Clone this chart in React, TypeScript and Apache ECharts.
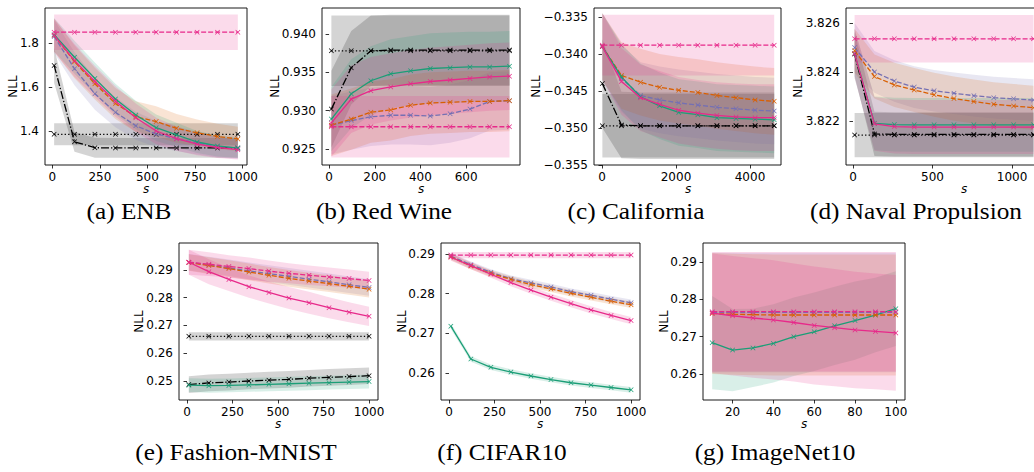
import React, { useEffect, useRef } from 'react';
import * as echarts from 'echarts';

const GREEN = '#1b9e77';
const ORANGE = '#d95f02';
const PURPLE = '#7570b3';
const PINK = '#e7298a';
const BLACK = '#000000';

// (a) ENB
const enbX = [10, 117, 224, 332, 439, 546, 653, 761, 868, 975];
const enbPinkDash = [1.849, 1.849, 1.849, 1.849, 1.849, 1.849, 1.849, 1.849, 1.849, 1.849];
const enbPinkDashSd = [0.081, 0.081, 0.081, 0.081, 0.081, 0.081, 0.081, 0.081, 0.081, 0.081];
const enbDot = [1.385, 1.385, 1.385, 1.385, 1.385, 1.385, 1.385, 1.385, 1.385, 1.385];
const enbDotSd = [0.05, 0.05, 0.05, 0.05, 0.05, 0.05, 0.05, 0.05, 0.05, 0.05];
const enbDashDot = [1.698, 1.351, 1.324, 1.323, 1.323, 1.323, 1.323, 1.323, 1.323, 1.323];
const enbDashDotSd = [0.08, 0.045, 0.045, 0.045, 0.045, 0.045, 0.045, 0.045, 0.045, 0.045];
const enbGreen = [1.838, 1.735, 1.639, 1.545, 1.473, 1.415, 1.382, 1.35, 1.332, 1.322];
const enbGreenSd = [0.075, 0.075, 0.072, 0.07, 0.065, 0.06, 0.055, 0.05, 0.048, 0.045];
const enbPink = [1.835, 1.72, 1.625, 1.535, 1.46, 1.4, 1.365, 1.34, 1.325, 1.315];
const enbPinkSd = [0.075, 0.075, 0.072, 0.07, 0.065, 0.06, 0.055, 0.05, 0.048, 0.045];
const enbOrange = [1.835, 1.715, 1.615, 1.525, 1.465, 1.443, 1.412, 1.392, 1.375, 1.364];
const enbOrangeSd = [0.075, 0.075, 0.072, 0.07, 0.07, 0.07, 0.065, 0.06, 0.058, 0.055];
const enbPurple = [1.83, 1.683, 1.569, 1.485, 1.424, 1.386, 1.365, 1.345, 1.33, 1.323];
const enbPurpleSd = [0.075, 0.075, 0.072, 0.068, 0.064, 0.06, 0.056, 0.052, 0.05, 0.05];

// (b) Red Wine
const wineX = [10, 97, 183, 270, 357, 443, 530, 617, 703, 790];
const winePinkDash = [0.9279, 0.9279, 0.9279, 0.9279, 0.9279, 0.9279, 0.9279, 0.9279, 0.9279, 0.9279];
const winePinkDashSd = [0.004, 0.004, 0.004, 0.004, 0.004, 0.004, 0.004, 0.004, 0.004, 0.004];
const wineDot = [0.9378, 0.9378, 0.9378, 0.9378, 0.9378, 0.9378, 0.9378, 0.9378, 0.9378, 0.9378];
const wineDotSd = [0.0046, 0.0046, 0.0046, 0.0046, 0.0046, 0.0046, 0.0046, 0.0046, 0.0046, 0.0046];
const wineDashDot = [0.9302, 0.9356, 0.9378, 0.9379, 0.9379, 0.9379, 0.9379, 0.9379, 0.9379, 0.9379];
const wineDashDotSd = [0.005, 0.0048, 0.0046, 0.0046, 0.0046, 0.0046, 0.0046, 0.0046, 0.0046, 0.0046];
const wineGreen = [0.9289, 0.9322, 0.9339, 0.9348, 0.9352, 0.9355, 0.9356, 0.9357, 0.9357, 0.9358];
const wineGreenSd = [0.0042, 0.0045, 0.0045, 0.0045, 0.0045, 0.0046, 0.0046, 0.0046, 0.0046, 0.0046];
const winePink = [0.9284, 0.9315, 0.9326, 0.9331, 0.9335, 0.9338, 0.934, 0.9342, 0.9344, 0.9345];
const winePinkSd = [0.0044, 0.0044, 0.0044, 0.0044, 0.0044, 0.0044, 0.0044, 0.0044, 0.0044, 0.0044];
const wineOrange = [0.9281, 0.9289, 0.9298, 0.9301, 0.9307, 0.931, 0.9311, 0.9312, 0.9312, 0.9313];
const wineOrangeSd = [0.004, 0.004, 0.004, 0.004, 0.004, 0.004, 0.004, 0.004, 0.004, 0.004];
const winePurple = [0.9281, 0.9287, 0.9292, 0.9294, 0.9294, 0.9293, 0.9296, 0.9302, 0.9312, 0.9313];
const winePurpleSd = [0.0038, 0.0038, 0.0038, 0.0038, 0.0038, 0.0038, 0.0038, 0.0038, 0.0038, 0.0038];

// (c) California
const calX = [10, 526, 1042, 1558, 2074, 2590, 3106, 3622, 4138, 4654];
const calPinkDash = [-0.3388, -0.3388, -0.3388, -0.3388, -0.3388, -0.3388, -0.3388, -0.3388, -0.3388, -0.3388];
const calPinkDashSd = [0.0041, 0.0041, 0.0041, 0.0041, 0.0041, 0.0041, 0.0041, 0.0041, 0.0041, 0.0041];
const calDot = [-0.3497, -0.3497, -0.3497, -0.3497, -0.3497, -0.3497, -0.3497, -0.3497, -0.3497, -0.3497];
const calDotSd = [0.0043, 0.0043, 0.0043, 0.0043, 0.0043, 0.0043, 0.0043, 0.0043, 0.0043, 0.0043];
const calDashDot = [-0.344, -0.3496, -0.3497, -0.3497, -0.3497, -0.3497, -0.3497, -0.3497, -0.3497, -0.3497];
const calDashDotSd = [0.006, 0.0045, 0.0045, 0.0045, 0.0045, 0.0045, 0.0045, 0.0045, 0.0045, 0.0045];
const calGreen = [-0.339, -0.3431, -0.3458, -0.347, -0.3479, -0.3482, -0.3486, -0.3487, -0.3488, -0.3489];
const calGreenSd = [0.0045, 0.0045, 0.0045, 0.0045, 0.0045, 0.0045, 0.0045, 0.0045, 0.0045, 0.0045];
const calPink = [-0.339, -0.3437, -0.3459, -0.3468, -0.3476, -0.348, -0.3483, -0.3485, -0.3486, -0.3486];
const calPinkSd = [0.0045, 0.0045, 0.0045, 0.0045, 0.0045, 0.0045, 0.0045, 0.0045, 0.0045, 0.0045];
const calOrange = [-0.339, -0.3429, -0.3438, -0.3445, -0.3449, -0.3452, -0.3456, -0.3459, -0.3462, -0.3464];
const calOrangeSd = [0.0045, 0.0045, 0.0045, 0.0045, 0.0045, 0.0045, 0.0045, 0.0045, 0.0045, 0.0045];
const calPurple = [-0.339, -0.3433, -0.3456, -0.3462, -0.3466, -0.3469, -0.3472, -0.3474, -0.3476, -0.3477];
const calPurpleSd = [0.0045, 0.0045, 0.0045, 0.0045, 0.0045, 0.0045, 0.0045, 0.0045, 0.0045, 0.0045];

// (d) Naval Propulsion
const navX = [10, 135, 260, 385, 510, 635, 760, 885, 1010, 1135];
const navPinkDash = [3.82535, 3.82535, 3.82535, 3.82535, 3.82535, 3.82535, 3.82535, 3.82535, 3.82535, 3.82535];
const navPinkDashSd = [0.00097, 0.00097, 0.00097, 0.00097, 0.00097, 0.00097, 0.00097, 0.00097, 0.00097, 0.00097];
const navDot = [3.82142, 3.82142, 3.82142, 3.82142, 3.82142, 3.82142, 3.82142, 3.82142, 3.82142, 3.82142];
const navDotSd = [0.0009, 0.0009, 0.0009, 0.0009, 0.0009, 0.0009, 0.0009, 0.0009, 0.0009, 0.0009];
const navDashDot = [3.82473, 3.82147, 3.82145, 3.82145, 3.82145, 3.82145, 3.82145, 3.82145, 3.82145, 3.82145];
const navDashDotSd = [0.0009, 0.0009, 0.0009, 0.0009, 0.0009, 0.0009, 0.0009, 0.0009, 0.0009, 0.0009];
const navGreen = [3.82475, 3.8219, 3.82185, 3.82184, 3.82184, 3.82184, 3.82184, 3.82184, 3.82184, 3.82184];
const navGreenSd = [0.001, 0.0011, 0.0011, 0.0011, 0.0011, 0.0011, 0.0011, 0.0011, 0.0011, 0.0011];
const navPink = [3.82475, 3.82188, 3.82177, 3.82175, 3.82175, 3.82175, 3.82175, 3.82175, 3.82175, 3.82175];
const navPinkSd = [0.001, 0.0011, 0.0011, 0.0011, 0.0011, 0.0011, 0.0011, 0.0011, 0.0011, 0.0011];
const navPurple = [3.825, 3.824, 3.82363, 3.82338, 3.82323, 3.82313, 3.82303, 3.82295, 3.8229, 3.82285];
const navPurpleSd = [0.001, 0.00085, 0.00085, 0.00085, 0.00085, 0.00085, 0.00085, 0.00085, 0.00085, 0.00085];
const navOrange = [3.82486, 3.82381, 3.82347, 3.82326, 3.82307, 3.82291, 3.82279, 3.82268, 3.82261, 3.82254];
const navOrangeSd = [0.0009, 0.0009, 0.0009, 0.0009, 0.0009, 0.0009, 0.0009, 0.0009, 0.0009, 0.0009];

// (e) Fashion-MNIST
const fmX = [10, 120, 230, 340, 450, 560, 670, 780, 890, 1000];
const fmPinkDash = [0.2928, 0.2921, 0.2913, 0.2905, 0.2896, 0.2888, 0.2881, 0.2875, 0.2869, 0.2862];
const fmPinkDashSd = [0.0045, 0.0043, 0.004, 0.004, 0.0038, 0.0036, 0.0035, 0.0034, 0.0033, 0.0032];
const fmDot = [0.2661, 0.2661, 0.2661, 0.2661, 0.2661, 0.2661, 0.2661, 0.2661, 0.2661, 0.2661];
const fmDotSd = [0.0015, 0.0015, 0.0015, 0.0015, 0.0015, 0.0015, 0.0015, 0.0015, 0.0015, 0.0015];
const fmDashDot = [0.2487, 0.2493, 0.2496, 0.25, 0.2503, 0.2506, 0.251, 0.2513, 0.2516, 0.2519];
const fmDashDotSd = [0.003, 0.003, 0.003, 0.003, 0.003, 0.003, 0.003, 0.003, 0.003, 0.003];
const fmGreen = [0.2485, 0.2483, 0.2484, 0.2486, 0.2488, 0.249, 0.2492, 0.2494, 0.2496, 0.2498];
const fmGreenSd = [0.0025, 0.0025, 0.0025, 0.0025, 0.0025, 0.0025, 0.0025, 0.0025, 0.0025, 0.0025];
const fmPink = [0.2928, 0.2894, 0.2866, 0.284, 0.2819, 0.2799, 0.2782, 0.2764, 0.2748, 0.2733];
const fmPinkSd = [0.0045, 0.0045, 0.0042, 0.004, 0.004, 0.004, 0.004, 0.0038, 0.0036, 0.0035];
const fmOrange = [0.2927, 0.2916, 0.2905, 0.2893, 0.2881, 0.287, 0.286, 0.2851, 0.2841, 0.2831];
const fmOrangeSd = [0.003, 0.003, 0.003, 0.003, 0.003, 0.003, 0.003, 0.003, 0.003, 0.003];
const fmPurple = [0.2928, 0.2918, 0.2908, 0.2897, 0.2887, 0.2877, 0.2867, 0.2857, 0.2847, 0.2837];
const fmPurpleSd = [0.003, 0.003, 0.003, 0.003, 0.003, 0.003, 0.003, 0.003, 0.003, 0.003];

// (f) CIFAR10
const cfX = [10, 120, 230, 340, 450, 560, 670, 780, 890, 1000];
const cfPinkDash = [0.28975, 0.28975, 0.28975, 0.28975, 0.28975, 0.28975, 0.28975, 0.28975, 0.28975, 0.28975];
const cfPinkDashSd = [0.0008, 0.0008, 0.0008, 0.0008, 0.0008, 0.0008, 0.0008, 0.0008, 0.0008, 0.0008];
const cfPurple = [0.2895, 0.2873, 0.2854, 0.2838, 0.2827, 0.2817, 0.2805, 0.2796, 0.2786, 0.2777];
const cfPurpleSd = [0.0008, 0.0008, 0.0008, 0.0008, 0.0008, 0.0008, 0.0008, 0.0008, 0.0008, 0.0008];
const cfOrange = [0.2893, 0.287, 0.2851, 0.2836, 0.2823, 0.2812, 0.2801, 0.2791, 0.2781, 0.2772];
const cfOrangeSd = [0.0008, 0.0008, 0.0008, 0.0008, 0.0008, 0.0008, 0.0008, 0.0008, 0.0008, 0.0008];
const cfPink = [0.2892, 0.2871, 0.2849, 0.2828, 0.2809, 0.2791, 0.2775, 0.2759, 0.2745, 0.2732];
const cfPinkSd = [0.0009, 0.0009, 0.0009, 0.0009, 0.0009, 0.0009, 0.0009, 0.0009, 0.0009, 0.0009];
const cfGreen = [0.2718, 0.2635, 0.2614, 0.2602, 0.2592, 0.2583, 0.2575, 0.2569, 0.2563, 0.2557];
const cfGreenSd = [0.0007, 0.0007, 0.0007, 0.0007, 0.0007, 0.0007, 0.0007, 0.0007, 0.0007, 0.0007];

// (g) ImageNet10
const inX = [10, 20, 30, 40, 50, 60, 70, 80, 90, 100];
const inPinkDash = [0.2767, 0.2767, 0.2767, 0.2767, 0.2767, 0.2767, 0.2767, 0.2767, 0.2767, 0.2767];
const inPinkDashSd = [0.016, 0.016, 0.016, 0.016, 0.016, 0.016, 0.016, 0.016, 0.016, 0.016];
const inPurple = [0.2765, 0.2765, 0.2765, 0.2765, 0.2765, 0.2765, 0.2765, 0.2765, 0.2765, 0.2765];
const inPurpleSd = [0.016, 0.016, 0.016, 0.016, 0.016, 0.016, 0.016, 0.016, 0.016, 0.016];
const inOrange = [0.2762, 0.276, 0.2759, 0.2758, 0.2758, 0.2758, 0.2758, 0.2758, 0.2758, 0.2758];
const inOrangeSd = [0.0162, 0.0162, 0.0162, 0.0162, 0.0162, 0.0162, 0.0162, 0.0162, 0.0162, 0.0162];
const inPink = [0.2763, 0.2756, 0.275, 0.2745, 0.2738, 0.273, 0.2724, 0.2718, 0.2714, 0.271];
const inPinkSd = [0.016, 0.016, 0.016, 0.016, 0.0158, 0.0158, 0.0157, 0.0156, 0.0155, 0.0155];
const inGreen = [0.2684, 0.2664, 0.267, 0.2682, 0.27, 0.2713, 0.2729, 0.2743, 0.2758, 0.2775];
const inGreenSd = [0.0125, 0.011, 0.0105, 0.0105, 0.0105, 0.0105, 0.0105, 0.0105, 0.01, 0.01];

// tick labels
const enbXTicks = [0, 250, 500, 750, 1000];
const enbYTicks = [1.4, 1.6, 1.8];
const wineXTicks = [0, 200, 400, 600];
const wineYTicks = [0.925, 0.93, 0.935, 0.94];
const calXTicks = [0, 2000, 4000];
const calYTicks = [-0.355, -0.35, -0.345, -0.34, -0.335];
const navXTicks = [0, 500, 1000];
const navYTicks = [3.822, 3.824, 3.826];
const fmXTicks = [0, 250, 500, 750, 1000];
const fmYTicks = [0.25, 0.26, 0.27, 0.28, 0.29];
const cfXTicks = [0, 250, 500, 750, 1000];
const cfYTicks = [0.26, 0.27, 0.28, 0.29];
const inXTicks = [20, 40, 60, 80, 100];
const inYTicks = [0.26, 0.27, 0.28, 0.29];

const captions = ['(a) ENB', '(b) Red Wine', '(c) California', '(d) Naval Propulsion', '(e) Fashion-MNIST', '(f) CIFAR10', '(g) ImageNet10'];

const XMARK = 'path://M0,1L1,0L5,4L9,0L10,1L6,5L10,9L9,10L5,6L1,10L0,9L4,5Z';

type Style = 'solid' | 'dashed' | 'dotted' | 'dashdot';
interface Curve { y: number[]; sd: number[]; color: string; style: Style; }
interface Panel {
  x: number[];
  curves: Curve[];
  box: [number, number, number, number];
  xr: [number, number];
  yr: [number, number];
  xt: number[];
  yt: number[];
  yDec: number;
  nllX: number;
  sX: number;
  capX: number;
}

function rgba(hex: string, a: number) {
  const n = parseInt(hex.slice(1), 16);
  return `rgba(${(n >> 16) & 255},${(n >> 8) & 255},${n & 255},${a})`;
}

const panels: Panel[] = [
  {
    x: enbX, box: [45, 8, 202, 157], xr: [-38, 1023], yr: [1.2455, 1.959], xt: enbXTicks, yt: enbYTicks, yDec: 1, nllX: 13, sX: 146, capX: 129,
    curves: [
      { y: enbDot, sd: enbDotSd, color: BLACK, style: 'dotted' },
      { y: enbDashDot, sd: enbDashDotSd, color: BLACK, style: 'dashdot' },
      { y: enbPurple, sd: enbPurpleSd, color: PURPLE, style: 'dashed' },
      { y: enbOrange, sd: enbOrangeSd, color: ORANGE, style: 'dashed' },
      { y: enbGreen, sd: enbGreenSd, color: GREEN, style: 'solid' },
      { y: enbPink, sd: enbPinkSd, color: PINK, style: 'solid' },
      { y: enbPinkDash, sd: enbPinkDashSd, color: PINK, style: 'dashed' },
    ],
  },
  {
    x: wineX, box: [322, 8, 198, 157], xr: [-31, 836], yr: [0.92291, 0.94339], xt: wineXTicks, yt: wineYTicks, yDec: 3, nllX: 275, sX: 421, capX: 384,
    curves: [
      { y: wineDot, sd: wineDotSd, color: BLACK, style: 'dotted' },
      { y: wineDashDot, sd: wineDashDotSd, color: BLACK, style: 'dashdot' },
      { y: winePurple, sd: winePurpleSd, color: PURPLE, style: 'dashed' },
      { y: wineOrange, sd: wineOrangeSd, color: ORANGE, style: 'dashed' },
      { y: wineGreen, sd: wineGreenSd, color: GREEN, style: 'solid' },
      { y: winePink, sd: winePinkSd, color: PINK, style: 'solid' },
      { y: winePinkDash, sd: winePinkDashSd, color: PINK, style: 'dashed' },
    ],
  },
  {
    x: calX, box: [594, 8, 187, 157], xr: [-216, 4838], yr: [-0.355, -0.33378], xt: calXTicks, yt: calYTicks, yDec: 3, nllX: 536, sX: 688, capX: 636,
    curves: [
      { y: calDot, sd: calDotSd, color: BLACK, style: 'dotted' },
      { y: calDashDot, sd: calDashDotSd, color: BLACK, style: 'dashdot' },
      { y: calPurple, sd: calPurpleSd, color: PURPLE, style: 'dashed' },
      { y: calOrange, sd: calOrangeSd, color: ORANGE, style: 'dashed' },
      { y: calGreen, sd: calGreenSd, color: GREEN, style: 'solid' },
      { y: calPink, sd: calPinkSd, color: PINK, style: 'solid' },
      { y: calPinkDash, sd: calPinkDashSd, color: PINK, style: 'dashed' },
    ],
  },
  {
    x: navX, box: [846, 8, 236, 157], xr: [-44, 1440], yr: [3.8202, 3.82661], xt: navXTicks, yt: navYTicks, yDec: 3, nllX: 798, sX: 964, capX: 916,
    curves: [
      { y: navDot, sd: navDotSd, color: BLACK, style: 'dotted' },
      { y: navDashDot, sd: navDashDotSd, color: BLACK, style: 'dashdot' },
      { y: navPurple, sd: navPurpleSd, color: PURPLE, style: 'dashed' },
      { y: navOrange, sd: navOrangeSd, color: ORANGE, style: 'dashed' },
      { y: navGreen, sd: navGreenSd, color: GREEN, style: 'solid' },
      { y: navPink, sd: navPinkSd, color: PINK, style: 'solid' },
      { y: navPinkDash, sd: navPinkDashSd, color: PINK, style: 'dashed' },
    ],
  },
  {
    x: fmX, box: [179, 243, 199, 157], xr: [-44, 1049], yr: [0.24315, 0.29973], xt: fmXTicks, yt: fmYTicks, yDec: 2, nllX: 139, sX: 278, capX: 236,
    curves: [
      { y: fmDot, sd: fmDotSd, color: BLACK, style: 'dotted' },
      { y: fmDashDot, sd: fmDashDotSd, color: BLACK, style: 'dashdot' },
      { y: fmGreen, sd: fmGreenSd, color: GREEN, style: 'solid' },
      { y: fmPurple, sd: fmPurpleSd, color: PURPLE, style: 'dashed' },
      { y: fmOrange, sd: fmOrangeSd, color: ORANGE, style: 'dashed' },
      { y: fmPink, sd: fmPinkSd, color: PINK, style: 'solid' },
      { y: fmPinkDash, sd: fmPinkDashSd, color: PINK, style: 'dashed' },
    ],
  },
  {
    x: cfX, box: [441, 243, 199, 157], xr: [-44, 1049], yr: [0.25314, 0.2928], xt: cfXTicks, yt: cfYTicks, yDec: 2, nllX: 402, sX: 540, capX: 502,
    curves: [
      { y: cfGreen, sd: cfGreenSd, color: GREEN, style: 'solid' },
      { y: cfPurple, sd: cfPurpleSd, color: PURPLE, style: 'dashed' },
      { y: cfOrange, sd: cfOrangeSd, color: ORANGE, style: 'dashed' },
      { y: cfPink, sd: cfPinkSd, color: PINK, style: 'solid' },
      { y: cfPinkDash, sd: cfPinkDashSd, color: PINK, style: 'dashed' },
    ],
  },
  {
    x: inX, box: [703, 243, 202, 157], xr: [5.5, 104.5], yr: [0.25304, 0.29509], xt: inXTicks, yt: inYTicks, yDec: 2, nllX: 664, sX: 804, capX: 775,
    curves: [
      { y: inGreen, sd: inGreenSd, color: GREEN, style: 'solid' },
      { y: inPurple, sd: inPurpleSd, color: PURPLE, style: 'dashed' },
      { y: inOrange, sd: inOrangeSd, color: ORANGE, style: 'dashed' },
      { y: inPink, sd: inPinkSd, color: PINK, style: 'solid' },
      { y: inPinkDash, sd: inPinkDashSd, color: PINK, style: 'dashed' },
    ],
  },
];

const FONT = 'DejaVu Sans';
const LABEL_SIZE = 12;

function dashOf(s: Style): any {
  if (s === 'dashed') return [5, 2];
  if (s === 'dotted') return [1.3, 2.2];
  if (s === 'dashdot') return [8, 2, 1.3, 2];
  return 'solid';
}

function fmtY(dec: number) {
  return (v: number) => (v < 0 ? '\u2212' : '') + Math.abs(v).toFixed(dec);
}

function buildOption() {
  const grid: any[] = [];
  const xAxis: any[] = [];
  const yAxis: any[] = [];
  const series: any[] = [];
  const graphic: any[] = [];

  panels.forEach((p, gi) => {
    const [l, t, w, h] = p.box;
    grid.push({ left: l, top: t, width: w, height: h, show: true, borderColor: '#000', borderWidth: 0.9, backgroundColor: 'transparent', containLabel: false });
    xAxis.push({
      type: 'value', gridIndex: gi, min: p.xr[0], max: p.xr[1],
      axisLine: { show: false }, splitLine: { show: false },
      axisTick: { show: true, length: 3.5, customValues: p.xt, lineStyle: { color: '#000', width: 0.8 } },
      axisLabel: { show: true, customValues: p.xt, margin: 6, color: '#000', fontFamily: FONT, fontSize: LABEL_SIZE, formatter: (v: number) => String(Math.round(v)) },
    });
    yAxis.push({
      type: 'value', gridIndex: gi, min: p.yr[0], max: p.yr[1],
      axisLine: { show: false }, splitLine: { show: false },
      axisTick: { show: true, length: 3.5, customValues: p.yt, lineStyle: { color: '#000', width: 0.8 } },
      axisLabel: { show: true, customValues: p.yt, margin: 6, color: '#000', fontFamily: FONT, fontSize: LABEL_SIZE, formatter: fmtY(p.yDec) },
    });
    p.curves.forEach((c) => {
      const xs = p.x, ys = c.y, sd = c.sd;
      series.push({
        type: 'custom', xAxisIndex: gi, yAxisIndex: gi, z: 1, silent: true, clip: true,
        data: [[xs[0], ys[0]]],
        renderItem: (params: any, api: any) => {
          const up = xs.map((x, i) => api.coord([x, ys[i] + sd[i]]));
          const dn = xs.map((x, i) => api.coord([x, ys[i] - sd[i]])).reverse();
          return { type: 'polygon', shape: { points: up.concat(dn) }, style: { fill: rgba(c.color, 0.17) } };
        },
      });
    });
    p.curves.forEach((c, ci) => {
      series.push({
        type: 'line', xAxisIndex: gi, yAxisIndex: gi, z: 3 + ci, silent: true,
        data: p.x.map((x, i) => [x, c.y[i]]),
        symbol: XMARK, symbolSize: 5, showSymbol: true,
        lineStyle: { color: c.color, width: 1.3, type: dashOf(c.style) },
        itemStyle: { color: c.color },
      });
    });
    const cy = t + h / 2;
    const row1 = t < 100;
    graphic.push({
      type: 'text', x: p.nllX, y: cy, rotation: Math.PI / 2,
      style: { text: 'NLL', fill: '#000', fontFamily: FONT, fontSize: LABEL_SIZE, textAlign: 'center', textVerticalAlign: 'middle' },
    });
    graphic.push({
      type: 'text', x: p.sX, y: row1 ? 189 : 424,
      style: { text: 's', fill: '#000', fontFamily: FONT, fontStyle: 'italic', fontSize: LABEL_SIZE, textAlign: 'center', textVerticalAlign: 'middle' },
    });
    graphic.push({
      type: 'text', x: p.capX, y: row1 ? 211 : 452, scaleX: 1.1,
      style: { text: captions[gi], fill: '#000', fontFamily: 'Liberation Serif', fontSize: 23, textAlign: 'center', textVerticalAlign: 'middle' },
    });
  });

  return { animation: false, backgroundColor: '#fff', grid, xAxis, yAxis, series, graphic };
}

export default function App() {
  const ref = useRef<HTMLDivElement>(null);
  useEffect(() => {
    document.body.style.margin = '0';
    document.body.style.overflow = 'hidden';
    document.documentElement.style.overflow = 'hidden';
    const chart = echarts.init(ref.current!, undefined, { renderer: 'svg' });
    chart.setOption(buildOption() as any);
    return () => chart.dispose();
  }, []);
  return <div ref={ref} style={{ position: 'fixed', left: 0, top: 0, width: 1100, height: 472, background: '#fff' }} />;
}
